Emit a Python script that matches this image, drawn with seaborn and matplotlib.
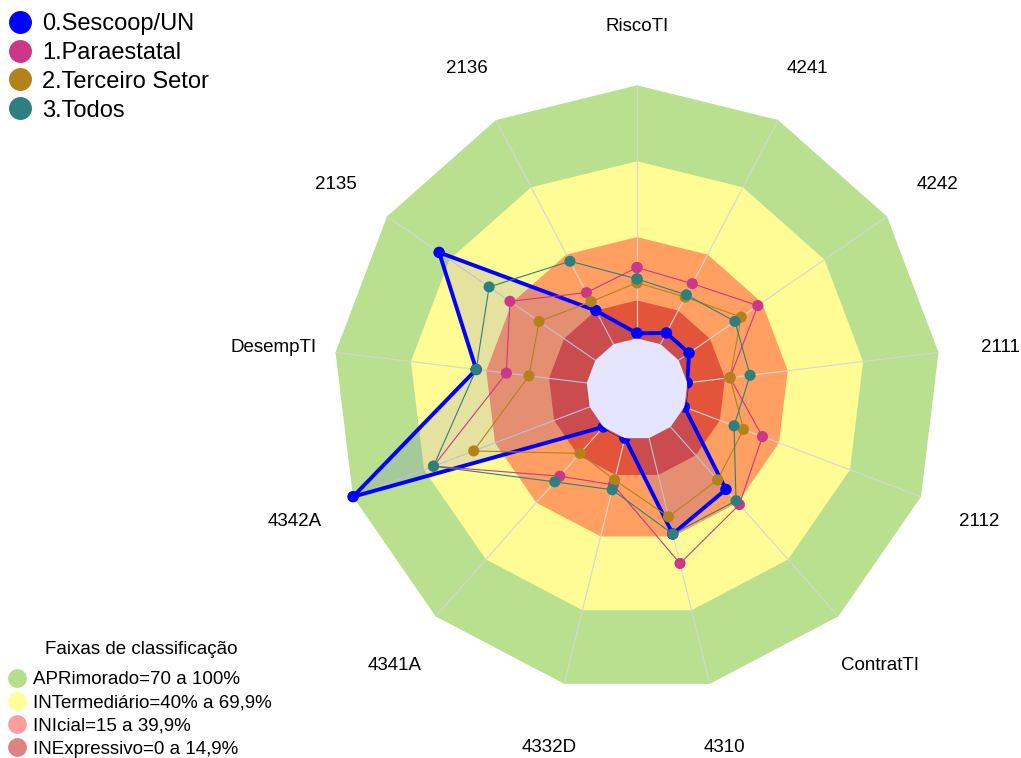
import numpy as np
import pandas as pd
import matplotlib
matplotlib.use('Agg')
import matplotlib.pyplot as plt
from matplotlib.lines import Line2D
from matplotlib.transforms import offset_copy
import seaborn as sns

# eixos do radar (sentido horario a partir do topo)
eixos = ['RiscoTI', '4241', '4242', '2111', '2112', 'ContratTI', '4310',
         '4332D', '4341A', '4342A', 'DesempTI', '2135', '2136']

# valores (%)
sescoop = [2, 5, 5, 0, 0, 33, 39, 0, 0, 100, 44, 75, 15]
paraestatal = [28, 27, 38, 17, 33, 41, 51, 19, 26, 66, 32, 41, 23]
terceiro = [22, 21, 30, 17, 25, 28, 32, 17, 14, 49, 23, 27, 19]
todos = [23.5, 22, 27, 25, 21, 39, 39, 21, 29, 66, 44, 51, 37]

grupos = ['0.Sescoop/UN', '1.Paraestatal', '2.Terceiro Setor', '3.Todos']
cores = ['#0000FF', '#CD3787', '#B4821A', '#2D807D']

# faixas de classificacao
faixas_lim = [100, 70, 40, 15]
faixas_cor = ['#B9E08E', '#FFFC96', '#FFA062', '#E2553A']
faixas_leg = ['APRimorado=70 a 100%', 'INTermediário=40% a 69,9%',
              'INIcial=15 a 39,9%', 'INExpressivo=0 a 14,9%']
faixas_leg_cor = ['#B5DE8A', '#FFFF99', '#FF9E9E', '#DE8282']

n = len(eixos)
theta = np.linspace(0, 2 * np.pi, n, endpoint=False)
theta_fech = np.append(theta, 2 * np.pi)

# tabela longa, poligono fechado por grupo
linhas = []
for g, v in zip(grupos, [sescoop, paraestatal, terceiro, todos]):
    for t, val in zip(theta_fech, v + v[:1]):
        linhas.append({'grupo': g, 'theta': t, 'valor': val})
df = pd.DataFrame(linhas)

sns.set_style('white')
plt.rcParams['font.family'] = ['Liberation Sans', 'DejaVu Sans']
plt.rcParams['text.color'] = 'black'

fig = plt.figure(figsize=(10.21, 7.58), dpi=100)
ax = fig.add_axes([0.26445, 0.00264, 0.7189, 0.96834], projection='polar')
ax.set_theta_zero_location('N')
ax.set_theta_direction(-1)

# fundo com as faixas
for lim, cor in zip(faixas_lim, faixas_cor):
    ax.fill(theta_fech, [lim] * (n + 1), color=cor, lw=0, zorder=1, clip_on=False)
ax.fill(theta_fech, [0] * (n + 1), color='white', lw=0, zorder=1, clip_on=False)
for t in theta:
    ax.plot([t, t], [0, 100], color='#D6D6D6', lw=0.8, zorder=2)

# area do Sescoop
ax.fill(theta_fech, sescoop + sescoop[:1], color='blue', alpha=0.1, lw=0,
        zorder=3, clip_on=False)

pal = dict(zip(grupos, cores))
larguras = dict(zip(grupos, [2.8, 0.8, 0.8, 0.8]))
tamanhos = dict(zip(grupos, [68, 64, 64, 64]))
sns.lineplot(data=df, x='theta', y='valor', hue='grupo', palette=pal,
             size='grupo', sizes=larguras, sort=False, estimator=None,
             legend=False, ax=ax, zorder=4)
sns.scatterplot(data=df, x='theta', y='valor', hue='grupo', palette=pal,
                size='grupo', sizes=tamanhos, linewidth=0, legend=False,
                ax=ax, zorder=5)

ax.set_rlim(0, 125)
ax.set_rorigin(-20)
ax.set_xticks([])
ax.set_yticks([])
ax.grid(False)
for sp in ax.spines.values():
    sp.set_visible(False)
    sp.set_linewidth(0)
    sp.set_edgecolor('none')
ax.patch.set_visible(False)
ax.set_xlabel('')
ax.set_ylabel('')

trans_txt = offset_copy(ax.transData, fig=fig, y=-3, units='dots')
for t, nome in zip(theta, eixos):
    ax.text(t, 124.5, nome, ha='center', va='center', fontsize=13.5,
            transform=trans_txt)

# legendas
h1 = [Line2D([], [], ls='', marker='o', markersize=15.5, color=c) for c in cores]
fig.legend(h1, grupos, loc='upper left', bbox_to_anchor=(8 / 1021, 1 - 13 / 758),
           frameon=False, fontsize=17, handlelength=1.0, handletextpad=0.43,
           labelspacing=0.29, borderpad=0, borderaxespad=0)

h2 = [Line2D([], [], ls='', marker='o', markersize=12.5, color=c) for c in faixas_leg_cor]
fig.legend(h2, faixas_leg, loc='lower left', bbox_to_anchor=(7.6 / 1021, 0),
           frameon=False, fontsize=13.5, handlelength=1.0, handletextpad=0.35,
           labelspacing=0.33, borderpad=0, borderaxespad=0)
fig.text(141 / 1021, 1 - 650 / 758, 'Faixas de classificação', ha='center',
         va='center', fontsize=13.5)

fig.savefig('out.png', dpi=100)
